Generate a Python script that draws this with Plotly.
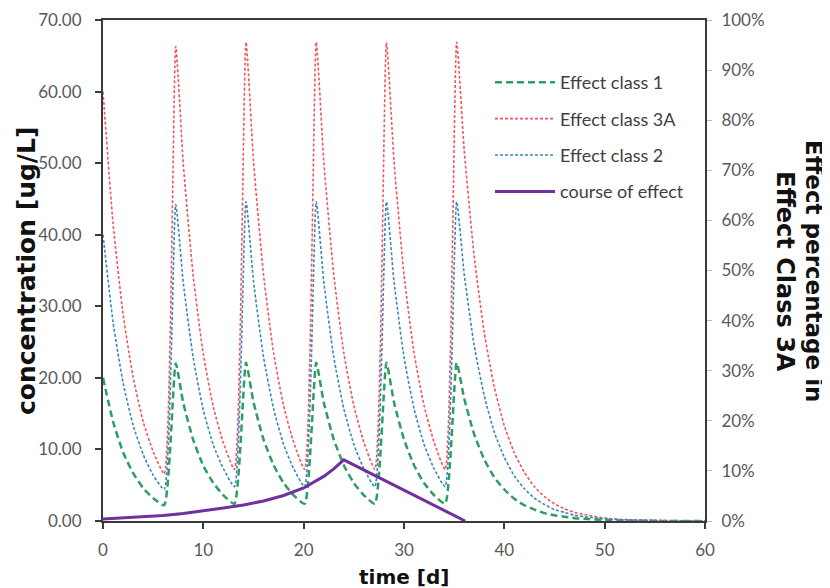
import plotly.graph_objects as go

# ---------------- data ----------------
time_d = [0, 1, 2, 3, 4, 5, 6.1,
          7.25, 8, 9, 10, 11, 12, 13.1,
          14.25, 15, 16, 17, 18, 19, 20.1,
          21.25, 22, 23, 24, 25, 26, 27.1,
          28.25, 29, 30, 31, 32, 33, 34.1,
          35.25, 36, 37, 38, 39, 40, 41, 42, 43, 44, 45, 46, 47, 48, 50, 52, 55, 60]

effect_class_1 = [20.0, 13.9, 9.6, 6.7, 4.6, 3.2, 2.2,
                  22.0, 16.5, 11.3, 7.7, 5.3, 3.6, 2.4,
                  22.1, 16.6, 11.4, 7.8, 5.3, 3.6, 2.4,
                  22.1, 16.6, 11.4, 7.8, 5.3, 3.6, 2.4,
                  22.1, 16.6, 11.4, 7.8, 5.3, 3.6, 2.4,
                  22.1, 17.1, 12.1, 8.6, 6.1, 4.4, 3.1, 2.2, 1.6, 1.1, 0.8, 0.6, 0.4, 0.3, 0.15, 0.07, 0.02, 0.0]

effect_class_3A = [60.0, 41.6, 28.9, 20.1, 13.9, 9.7, 6.6,
                   66.3, 49.9, 34.1, 23.3, 15.9, 10.9, 7.2,
                   66.9, 50.3, 34.4, 23.5, 16.1, 11.0, 7.2,
                   66.9, 50.3, 34.4, 23.5, 16.1, 11.0, 7.2,
                   66.9, 50.3, 34.4, 23.5, 16.1, 11.0, 7.2,
                   66.9, 51.8, 36.9, 26.3, 18.7, 13.3, 9.5, 6.8, 4.8, 3.4, 2.4, 1.7, 1.2, 0.9, 0.4, 0.2, 0.1, 0.0]

effect_class_2 = [40.0, 27.8, 19.3, 13.4, 9.3, 6.4, 4.4,
                  44.2, 33.3, 22.7, 15.5, 10.6, 7.3, 4.8,
                  44.6, 33.5, 22.9, 15.7, 10.7, 7.3, 4.8,
                  44.6, 33.5, 22.9, 15.7, 10.7, 7.3, 4.8,
                  44.6, 33.5, 22.9, 15.7, 10.7, 7.3, 4.8,
                  44.6, 34.5, 24.5, 17.5, 12.4, 8.9, 6.3, 4.5, 3.2, 2.3, 1.6, 1.2, 0.8, 0.6, 0.3, 0.15, 0.05, 0.0]

effect_time_d = [0, 2, 4, 6, 8, 10, 12, 14, 16, 18, 20, 22, 23, 24, 28, 32, 36.1]
course_of_effect_pct = [0.4, 0.6, 0.8, 1.1, 1.5, 2.0, 2.6, 3.2, 4.0, 5.1, 6.6, 8.9, 10.4, 12.2, 8.2, 4.1, 0.0]

series_names = ["Effect class 1", "Effect class 3A", "Effect class 2", "course of effect"]
x_ticks = [0, 10, 20, 30, 40, 50, 60]

# ---------------- figure ----------------
# the page body adds an 8 px offset, so the figure is 8 px smaller than the window
OFF = 8
W, H = 830 - OFF, 588 - OFF
L, R, T, B = 103 - OFF, 830 - 705, 20 - OFF, 588 - 521
pw, ph = W - L - R, H - T - B

def px_x(p):  # page pixel -> paper x
    return (p - OFF - L) / pw

def px_y(p):  # page pixel -> paper y
    return (H - B - (p - OFF)) / ph

fig = go.Figure()

fig.add_trace(go.Scatter(
    x=time_d, y=effect_class_1, name=series_names[0], mode="lines",
    line=dict(color="#2E9D64", width=2.5, dash="7px,4px", shape="spline", smoothing=0.5),
    legendgroup="g1"))
fig.add_trace(go.Scatter(
    x=time_d, y=effect_class_3A, name=series_names[1], mode="lines",
    line=dict(color="#F0575C", width=1.6, dash="3px,2px", shape="spline", smoothing=0.5),
    legendgroup="g2"))
fig.add_trace(go.Scatter(
    x=time_d, y=effect_class_2, name=series_names[2], mode="lines",
    line=dict(color="#3A86BD", width=1.6, dash="3px,2px", shape="spline", smoothing=0.5),
    legendgroup="g3"))
fig.add_trace(go.Scatter(
    x=effect_time_d, y=[v / 100 for v in course_of_effect_pct], name=series_names[3], mode="lines",
    line=dict(color="#7030A0", width=3), yaxis="y2", legendgroup="g4"))

axis_col = "#3a3a3a"
tick_font = dict(family="Lato", size=17, color="#595959")

fig.update_layout(
    width=W, height=H,
    margin=dict(l=L, r=R, t=T, b=B, autoexpand=False),
    paper_bgcolor="white", plot_bgcolor="white",
    showlegend=True,
    legend=dict(x=px_x(490), y=px_y(64), xanchor="left", yanchor="top",
                font=dict(family="Lato", size=18, color="#404040"),
                itemwidth=60, tracegroupgap=10, bgcolor="rgba(0,0,0,0)"),
    xaxis=dict(range=[0, 60], tickvals=x_ticks, showgrid=False, zeroline=False,
               showline=True, linecolor=axis_col, linewidth=2, mirror=True,
               ticks="outside", ticklen=6, tickwidth=1.5, tickcolor=axis_col,
               tickfont=tick_font, ticklabelstandoff=7),
    yaxis=dict(range=[0, 70], dtick=10, tickformat=".2f", showgrid=False, zeroline=False,
               showline=True, linecolor=axis_col, linewidth=2,
               ticks="outside", ticklen=6, tickwidth=1.5, tickcolor=axis_col,
               tickfont=tick_font, ticklabelstandoff=10),
    yaxis2=dict(range=[0, 1], dtick=0.1, tickformat=".0%", overlaying="y", side="right",
                showgrid=False, zeroline=False,
                showline=True, linecolor=axis_col, linewidth=2,
                ticks="outside", ticklen=5, tickwidth=1, tickcolor="#bbbbbb",
                tickfont=tick_font, ticklabelstandoff=6),
)

title_font = dict(family="DejaVu Sans", size=24, color="#111111", weight="bold")
fig.add_annotation(text="concentration [ug/L]", xref="paper", yref="paper",
                   x=px_x(26), y=px_y(271), textangle=-90, showarrow=False,
                   xanchor="center", yanchor="middle",
                   font=dict(family="DejaVu Sans", size=25, color="#111111", weight="bold"))
fig.add_annotation(text="time [d]", xref="paper", yref="paper",
                   x=px_x(404), y=px_y(577), showarrow=False,
                   xanchor="center", yanchor="middle",
                   font=dict(family="DejaVu Sans", size=20, color="#111111", weight="bold"))
fig.add_annotation(text="Effect percentage in", xref="paper", yref="paper",
                   x=px_x(814), y=px_y(271), textangle=90, showarrow=False,
                   xanchor="center", yanchor="middle",
                   font=dict(family="DejaVu Sans", size=23, color="#111111", weight="bold"))
fig.add_annotation(text="Effect Class 3A", xref="paper", yref="paper",
                   x=px_x(785), y=px_y(271), textangle=90, showarrow=False,
                   xanchor="center", yanchor="middle", font=title_font)

fig.write_html("out.html")
